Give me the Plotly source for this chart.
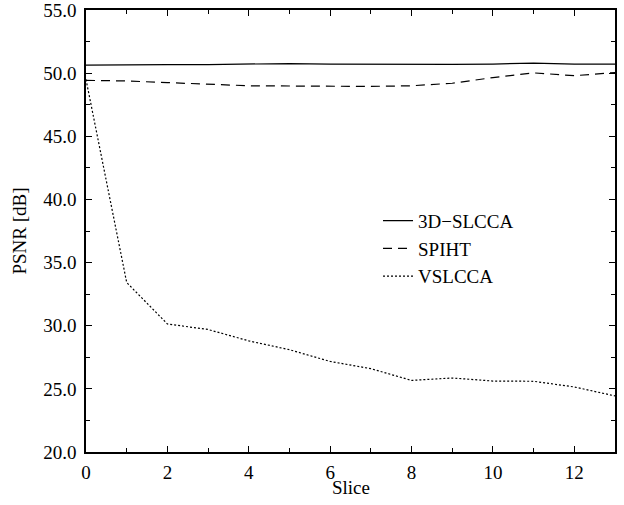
import plotly.graph_objects as go

slices = list(range(14))
slcca3d = [50.64, 50.68, 50.68, 50.68, 50.7, 50.76, 50.72, 50.7, 50.7, 50.7, 50.72, 50.8, 50.72, 50.72]
spiht = [49.43, 49.38, 49.25, 49.12, 49.0, 48.98, 48.95, 48.95, 49.0, 49.2, 49.65, 50.02, 49.8, 50.05]
vslcca = [49.5, 33.42, 30.14, 29.7, 28.8, 28.1, 27.17, 26.6, 25.67, 25.86, 25.62, 25.6, 25.15, 24.44]

font = dict(family="'Liberation Serif', 'Times New Roman', Times, serif", size=19, color="black")

fig = go.Figure()
fig.add_trace(go.Scatter(x=slices, y=slcca3d, mode="lines", name="3D\u2212SLCCA",
                         line=dict(color="black", width=1.2), legendgroup="a"))
fig.add_trace(go.Scatter(x=slices, y=spiht, mode="lines", name="SPIHT",
                         line=dict(color="black", width=1.2, dash="9px,6px"), legendgroup="b"))
fig.add_trace(go.Scatter(x=slices, y=vslcca, mode="lines", name="VSLCCA",
                         line=dict(color="black", width=1.2, dash="2px,2px"), legendgroup="c"))

fig.update_layout(
    width=624, height=505,
    margin=dict(l=86, r=9, t=10, b=53, autoexpand=False),
    paper_bgcolor="white", plot_bgcolor="white",
    font=font,
    showlegend=True,
    legend=dict(x=0.552, y=0.566, xanchor="left", yanchor="top",
                bgcolor="rgba(0,0,0,0)", font=font, tracegroupgap=0),
    annotations=[dict(text="Slice", xref="paper", yref="paper", x=0.5, y=-0.081,
                      xanchor="center", yanchor="middle", showarrow=False, font=font)],
)
fig.update_xaxes(range=[0, 13], tickvals=[0, 2, 4, 6, 8, 10, 12], ticks="inside", ticklen=6,
                 tickcolor="black", showline=True, linecolor="black", linewidth=1.5,
                 mirror="ticks", showgrid=False, zeroline=False, automargin=False,
                 ticklabelstandoff=2, ticklabeloverflow="allow",
                 minor=dict(dtick=1, ticks="inside", ticklen=4, tickcolor="black"))
fig.update_yaxes(range=[20, 55], dtick=5, tickformat=".1f", ticks="inside", ticklen=6,
                 tickcolor="black", showline=True, linecolor="black", linewidth=1.5,
                 mirror="ticks", showgrid=False, zeroline=False, automargin=False,
                 ticklabelstandoff=4, ticklabeloverflow="allow",
                 minor=dict(dtick=2.5, ticks="inside", ticklen=4, tickcolor="black"),
                 title=dict(text="PSNR [dB]", font=font, standoff=12))

fig.write_html("out.html", config={"displayModeBar": False},
               post_script="document.body.style.margin='0';")
